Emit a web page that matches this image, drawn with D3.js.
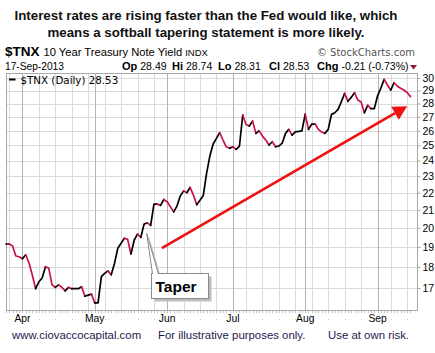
<!DOCTYPE html>
<html>
<head>
<meta charset="utf-8">
<script src="https://cdn.jsdelivr.net/npm/d3@7"></script>
<style>
  body { margin: 0; background: #fff; }
  svg { display: block; font-family: Arial, "Liberation Sans", sans-serif; }
</style>
</head>
<body>
<svg id="chart" width="435" height="353"></svg>
<script>
// daily closes of $TNX, 22-Mar-2013 .. 17-Sep-2013
const closes = [
  19.15, 19.15, 19.05, 18.54, 18.50, 18.40, 18.60, 18.19, 17.61, 16.97,
  17.29, 17.47, 18.01, 17.94, 17.15, 17.03, 17.15, 17.03, 16.87, 17.03,
  16.97, 16.97, 16.97, 17.06, 16.63, 16.68, 16.72, 16.33, 16.33, 17.53,
  17.69, 17.81, 17.62, 18.17, 18.93, 19.19, 19.45, 19.39, 18.64, 19.36,
  19.67, 19.50, 20.21, 20.28, 20.14, 21.33, 21.33, 21.26, 21.60, 21.47,
  21.18, 20.89, 21.22, 21.80, 22.11, 22.00, 22.32, 21.86, 21.30, 21.56,
  21.83, 23.18, 24.29, 25.10, 25.48, 25.88, 25.37, 24.91, 24.81, 24.91,
  24.74, 24.96, 27.14, 26.45, 26.35, 26.70, 25.83, 26.01, 25.64, 25.37,
  25.03, 25.25, 24.91, 24.96, 25.15, 25.83, 26.11, 25.71, 25.94, 25.97,
  26.01, 27.21, 26.11, 26.49, 26.49, 26.11, 25.92, 25.83, 26.11, 27.19,
  27.31, 27.56, 28.14, 28.78, 28.17, 28.47, 28.83, 28.27, 28.11, 27.31,
  27.86, 27.61, 27.61, 28.58, 29.18, 29.89, 29.44, 29.04, 29.62, 29.36,
  29.18, 29.04, 28.85, 28.53
];
const firstDay = "2013-03-22";
const lastDay = "2013-09-17";
const holidays = ["2013-03-29", "2013-05-27", "2013-07-04", "2013-09-02"];
const yTicks = [17, 18, 19, 20, 21, 22, 23, 24, 25, 26, 27, 28, 29, 30];
const yDomain = [16.02, 30.41];
const quote = [["Op", "28.49"], ["Hi", "28.74"], ["Lo", "28.31"], ["Cl", "28.53"], ["Chg", "-0.21 (-0.73%)"]];
const titleLines = [
  "Interest rates are rising faster than the Fed would like, which",
  "means a softball tapering statement is more likely."
];
const footer = ["www.ciovaccocapital.com", "For illustrative purposes only.", "Use at own risk."];
// arrow drawn on the chart, in (trading-day index, yield)
const trendArrow = [[47.4, 18.94], [122.0, 27.8]];
const taperAt = [42.8, 19.7];

const parse = d3.utcParse("%Y-%m-%d");
const fmt = d3.utcFormat("%Y-%m-%d");
const days = d3.utcDay.range(parse(firstDay), d3.utcDay.offset(parse(lastDay), 1))
  .filter(d => d.getUTCDay() > 0 && d.getUTCDay() < 6 && !holidays.includes(fmt(d)));

const svg = d3.select("#chart");
const pLeft = 6, pRight = 417, pTop = 73, pBottom = 310;
const verdana = "'DejaVu Sans', Verdana, sans-serif";

const x = d3.scaleLinear().domain([0, 125]).range([pLeft, pRight]);
const y = d3.scaleLog().domain(yDomain).range([pBottom, pTop]);

// month starts and week starts
const monthIdx = d3.range(1, days.length).filter(i => days[i].getUTCMonth() != days[i - 1].getUTCMonth());
const weekIdx = d3.range(1, days.length).filter(i => +d3.utcMonday.floor(days[i]) != +d3.utcMonday.floor(days[i - 1]));

// title
const titleW = [383, 317];
svg.selectAll(".title").data(titleLines).join("text")
  .attr("x", 206).attr("y", (d, i) => 20 + i * 17)
  .attr("text-anchor", "middle")
  .attr("font-size", 13.6).attr("font-weight", "bold").attr("fill", "#111")
  .attr("textLength", (d, i) => titleW[i]).attr("lengthAdjust", "spacingAndGlyphs")
  .text(d => d);

// symbol line
const sym = svg.append("text").attr("x", 5).attr("y", 56).attr("fill", "#000");
sym.append("tspan").attr("font-weight", "bold").attr("font-size", 13.5).text("$TNX");
sym.append("tspan").attr("font-size", 11.2).attr("dx", 4).text("10 Year Treasury Note Yield");
sym.append("tspan").attr("font-size", 9.5).attr("dx", 3).text("INDX");
svg.append("text").attr("x", 415).attr("y", 56).attr("text-anchor", "end")
  .attr("font-family", verdana).attr("font-size", 10).attr("fill", "#555").text("\u00A9 StockCharts.com");

// date / quote line
svg.append("text").attr("x", 5).attr("y", 70).attr("font-size", 10.2).text("17-Sep-2013");
const quoteX = [122, 172, 218, 269, 317];
quote.forEach((q, i) => {
  const t = svg.append("text").attr("x", quoteX[i]).attr("y", 70).attr("font-size", 10.5);
  t.append("tspan").attr("font-weight", "bold").attr("font-size", 11).text(q[0]);
  t.append("tspan").attr("dx", 3).text(q[1]);
});
svg.append("path").attr("d", "M410,65 L417,65 L413.5,69.5 Z").attr("fill", "#8b1a3a");

// grid
const g = svg.append("g");
g.selectAll(".hgrid").data(yTicks).join("line")
  .attr("x1", pLeft).attr("x2", pRight)
  .attr("y1", d => Math.round(y(d)) + 0.5).attr("y2", d => Math.round(y(d)) + 0.5)
  .attr("stroke", "#dadada");
g.selectAll(".wgrid").data(weekIdx).join("line")
  .attr("x1", d => Math.round(x(d)) + 0.5).attr("x2", d => Math.round(x(d)) + 0.5)
  .attr("y1", pTop).attr("y2", pBottom)
  .attr("stroke", "#dadada");
g.selectAll(".mgrid").data(monthIdx).join("line")
  .attr("x1", d => Math.round(x(d)) + 0.5).attr("x2", d => Math.round(x(d)) + 0.5)
  .attr("y1", pTop).attr("y2", pBottom)
  .attr("stroke", "#b4b4b4");

// frame
svg.append("rect").attr("x", pLeft + 0.5).attr("y", pTop + 0.5)
  .attr("width", pRight - pLeft).attr("height", pBottom - pTop)
  .attr("fill", "none").attr("stroke", "#a8a8a8");

// right axis
const yAxis = svg.append("g").attr("transform", `translate(${pRight + 0.5},0)`)
  .call(d3.axisRight(y).tickValues(yTicks).tickFormat(d3.format("d")).tickSize(3).tickPadding(2));
yAxis.select(".domain").remove();
yAxis.selectAll("line").attr("stroke", "#aaa");
yAxis.selectAll("text").attr("font-size", 10.5).attr("fill", "#000").attr("font-family", "Arial, 'Liberation Sans', sans-serif");

// bottom axis: daily ticks, month labels
svg.append("g").selectAll("line").data(d3.range(days.length)).join("line")
  .attr("x1", d => Math.round(x(d)) + 0.5).attr("x2", d => Math.round(x(d)) + 0.5)
  .attr("y1", pBottom + 1).attr("y2", pBottom + 3)
  .attr("stroke", "#c4c4c4");
svg.append("g").selectAll("line").data(weekIdx).join("line")
  .attr("x1", d => Math.round(x(d)) + 0.5).attr("x2", d => Math.round(x(d)) + 0.5)
  .attr("y1", pBottom + 9).attr("y2", pBottom + 10)
  .attr("stroke", "#c8c8c8");
svg.selectAll(".mlab").data(monthIdx).join("text")
  .attr("x", d => x(d)).attr("y", 322)
  .attr("text-anchor", "middle").attr("font-size", 10.3).attr("fill", "#000")
  .text(d => d3.utcFormat("%b")(days[d]));

// price line, black when rising, red when falling
const runs = [];
for (let i = 1; i < closes.length; i++) {
  const down = closes[i] < closes[i - 1];
  const last = runs[runs.length - 1];
  if (last && last.down == down) last.pts.push(i);
  else runs.push({ down: down, pts: [i - 1, i] });
}
const line = d3.line().x(i => x(i)).y(i => y(closes[i]));
svg.append("g").selectAll("path").data(runs).join("path")
  .attr("d", r => line(r.pts))
  .attr("fill", "none")
  .attr("stroke", r => r.down ? "#cc1144" : "#000")
  .attr("stroke-width", 1.7)
  .attr("stroke-linejoin", "round").attr("stroke-linecap", "round");

// legend
svg.append("line").attr("x1", 9).attr("x2", 15.5).attr("y1", 79.5).attr("y2", 79.5)
  .attr("stroke", "#000").attr("stroke-width", 2);
svg.append("text").attr("x", 20.5).attr("y", 83.5)
  .attr("font-family", verdana).attr("font-size", 10.3)
  .text("$TNX (Daily) " + d3.format(".2f")(closes[closes.length - 1]));

// trend arrow
const a0 = [x(trendArrow[0][0]), y(trendArrow[0][1])];
const a1 = [x(trendArrow[1][0]), y(trendArrow[1][1])];
const ang = Math.atan2(a1[1] - a0[1], a1[0] - a0[0]);
const headLen = 14, headW = 7.5;
const hb = [a1[0] - headLen * Math.cos(ang), a1[1] - headLen * Math.sin(ang)];
svg.append("line").attr("x1", a0[0]).attr("y1", a0[1]).attr("x2", hb[0]).attr("y2", hb[1])
  .attr("stroke", "#f01010").attr("stroke-width", 2.6);
svg.append("path")
  .attr("d", `M${a1[0]},${a1[1]} L${hb[0] + headW * Math.sin(ang)},${hb[1] - headW * Math.cos(ang)} L${hb[0] - headW * Math.sin(ang)},${hb[1] + headW * Math.cos(ang)} Z`)
  .attr("fill", "#f01010");

// Taper callout
const tip = [x(taperAt[0]), y(taperAt[1])];
const box = { x: 151.5, y: 273.5, w: 57, h: 25 };
svg.append("path")
  .attr("d", `M${tip[0] + 2},${tip[1] + 2} L${box.x + 9},${box.y + 2} L${box.x + 4},${box.y + 2} Z`)
  .attr("fill", "#c0c0c0");
svg.append("rect").attr("x", box.x + 3).attr("y", box.y + 3).attr("width", box.w).attr("height", box.h)
  .attr("fill", "#bdbdbd");
svg.append("rect").attr("x", box.x).attr("y", box.y).attr("width", box.w).attr("height", box.h)
  .attr("fill", "#fff").attr("stroke", "#8a8a8a");
svg.append("path")
  .attr("d", `M${box.x + 1},${box.y + 0.5} L${tip[0]},${tip[1]} L${box.x + 7},${box.y + 0.5}`)
  .attr("fill", "#fff").attr("stroke", "#8a8a8a");
svg.append("text").attr("x", box.x + 4).attr("y", box.y + 18.5)
  .attr("font-size", 15.5).attr("font-weight", "bold").attr("fill", "#000").text("Taper");

// footer
const footX = [12, 158, 328];
svg.selectAll(".foot").data(footer).join("text")
  .attr("x", (d, i) => footX[i]).attr("y", 339)
  .attr("font-size", 11.4).attr("fill", "#1c2050")
  .text(d => d);
</script>
</body>
</html>
